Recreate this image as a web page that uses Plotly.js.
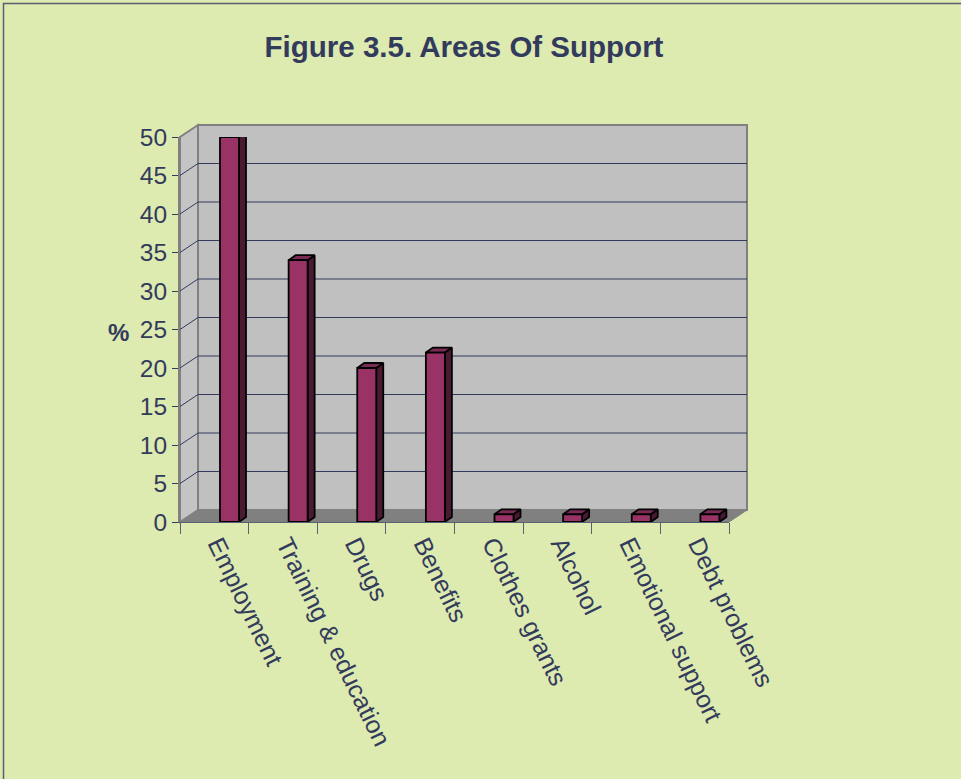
<!DOCTYPE html>
<html>
<head>
<meta charset="utf-8">
<script src="https://cdn.plot.ly/plotly-3.0.1.min.js"></script>
<style>
html,body{margin:0;padding:0;background:#DDEAB0;overflow:hidden;}
#chart{width:961px;height:779px;}
</style>
</head>
<body>
<div id="chart"></div>
<script>
// ---- data ----
const categories = ["Employment", "Training & education", "Drugs", "Benefits",
                    "Clothes grants", "Alcohol", "Emotional support", "Debt problems"];
const percentValues = [50, 34, 20, 22, 1, 1, 1, 1];
const yTickValues = [0, 5, 10, 15, 20, 25, 30, 35, 40, 45, 50];
const chartTitle = "Figure 3.5. Areas Of Support";
const yLabel = "%";

// ---- layout helpers (pixels -> paper) ----
const W = 961, H = 779;
const fx = px => px / W;
const fy = py => 1 - py / H;
const NAVY = "#333B5C";
const FONT = "Liberation Sans, Arial, sans-serif";

const plotL = 180, plotR = 729, plotTop = 137, plotBot = 522;
const depthX = 18, depthY = 12;          // 3D wall offset (px)
const catPx = (plotR - plotL) / categories.length;
const unitPx = (plotBot - plotTop) / 50;

const barWidth = 19 / catPx;
const barOffset = (40 - catPx / 2) / catPx;
const faceDx = 7 / catPx;
const faceDy = 5 / unitPx;

const xPos = categories.map((c, i) => i + 0.5);
const boundaries = categories.map((c, i) => i).concat([categories.length]);

const traces = [];
// side and top faces of the 3D bars
percentValues.forEach((v, i) => {
  const L = xPos[i] + barOffset, R = L + barWidth;
  traces.push({
    type: "scatter", mode: "lines", xaxis: "x", yaxis: "y",
    x: [R, R + faceDx, R + faceDx, R, R],
    y: [0, faceDy, v + faceDy, v, 0],
    fill: "toself", fillcolor: "#4A1A33",
    line: {color: "#000000", width: 1.8}, hoverinfo: "skip", showlegend: false
  });
  traces.push({
    type: "scatter", mode: "lines", xaxis: "x", yaxis: "y",
    x: [L, L + faceDx, R + faceDx, R, L],
    y: [v, v + faceDy, v + faceDy, v, v],
    fill: "toself", fillcolor: "#7A2A55",
    line: {color: "#000000", width: 1.8}, hoverinfo: "skip", showlegend: false
  });
});
// front faces
traces.push({
  type: "bar", xaxis: "x2", yaxis: "y",
  x: xPos, y: percentValues,
  width: barWidth, offset: barOffset,
  marker: {color: "#993366", line: {color: "#000000", width: 1.8}},
  hoverinfo: "y", showlegend: false
});

const shapes = [];
// outer frame
shapes.push({type: "rect", xref: "paper", yref: "paper", layer: "below",
  x0: fx(3.5), x1: fx(980), y0: fy(3.5), y1: fy(800),
  line: {color: "#5A6070", width: 1.5}, fillcolor: "rgba(0,0,0,0)"});
// left wall
shapes.push({type: "path", xref: "paper", yref: "paper", layer: "below",
  path: `M ${fx(plotL)},${fy(plotBot)} L ${fx(plotL + depthX)},${fy(plotBot - depthY)} L ${fx(plotL + depthX)},${fy(plotTop - depthY)} L ${fx(plotL)},${fy(plotTop)} Z`,
  fillcolor: "#C4C4C4", line: {color: "#808080", width: 2}});
// back wall
shapes.push({type: "rect", xref: "paper", yref: "paper", layer: "below",
  x0: fx(plotL + depthX), x1: fx(plotR + depthX), y0: fy(plotBot - depthY), y1: fy(plotTop - depthY),
  fillcolor: "#C0C0C0", line: {color: "#808080", width: 2}});
// floor
shapes.push({type: "path", xref: "paper", yref: "paper", layer: "below",
  path: `M ${fx(plotL)},${fy(plotBot)} L ${fx(plotL + depthX)},${fy(plotBot - depthY)} L ${fx(plotR + depthX)},${fy(plotBot - depthY)} L ${fx(plotR)},${fy(plotBot)} Z`,
  fillcolor: "#808080", line: {color: "#808080", width: 1}});
// gridlines on back wall + diagonal connectors
yTickValues.filter(v => v > 0 && v < 50).forEach(v => {
  shapes.push({type: "line", xref: "paper", yref: "y", layer: "below",
    ysizemode: "pixel", yanchor: v, y0: depthY, y1: depthY,
    x0: fx(plotL + depthX), x1: fx(plotR + depthX),
    line: {color: NAVY, width: 1}});
  shapes.push({type: "line", xref: "paper", yref: "y", layer: "below",
    ysizemode: "pixel", yanchor: v, y0: 0, y1: depthY,
    x0: fx(plotL), x1: fx(plotL + depthX),
    line: {color: NAVY, width: 1}});
});

const layout = {
  width: W, height: H,
  margin: {l: 0, r: 0, t: 0, b: 0},
  paper_bgcolor: "#DDEAB0",
  plot_bgcolor: "rgba(0,0,0,0)",
  font: {family: FONT, color: NAVY},
  title: {text: chartTitle, x: fx(464), xanchor: "center", y: fy(47), yanchor: "middle",
          font: {family: FONT, size: 29.5, color: NAVY, weight: "bold"}},
  xaxis: {domain: [fx(plotL), fx(plotR)], range: [0, categories.length],
          tickmode: "array", tickvals: boundaries, showticklabels: false,
          ticks: "outside", ticklen: 11, tickcolor: "#5A6070", tickwidth: 1,
          showline: true, linecolor: "#5A6070", linewidth: 1,
          showgrid: false, zeroline: false, fixedrange: true, anchor: "y"},
  xaxis2: {overlaying: "x", anchor: "y", side: "bottom", range: [0, categories.length],
          tickmode: "array", tickvals: xPos, ticktext: categories,
          ticks: "", tickangle: 64, tickfont: {family: FONT, size: 25, color: NAVY},
          ticklabelshift: 4, ticklabelstandoff: 2,
          showline: false, showgrid: false, zeroline: false, fixedrange: true},
  yaxis: {domain: [fy(plotBot), fy(plotTop)], range: [0, 50],
          tickmode: "array", tickvals: yTickValues,
          ticks: "outside", ticklen: 6, tickcolor: NAVY, tickwidth: 1,
          tickfont: {family: FONT, size: 24.5, color: NAVY}, ticklabelstandoff: 0,
          showline: true, linecolor: "#808080", linewidth: 2,
          showgrid: false, zeroline: false, fixedrange: true, anchor: "x"},
  annotations: [{text: "<b>" + yLabel + "</b>", xref: "paper", yref: "paper",
    x: fx(118), y: fy(332), xanchor: "center", yanchor: "middle", showarrow: false,
    font: {family: FONT, size: 24, color: NAVY}}],
  shapes: shapes,
  showlegend: false
};

Plotly.newPlot("chart", traces, layout, {displayModeBar: false, staticPlot: true});
</script>
</body>
</html>
